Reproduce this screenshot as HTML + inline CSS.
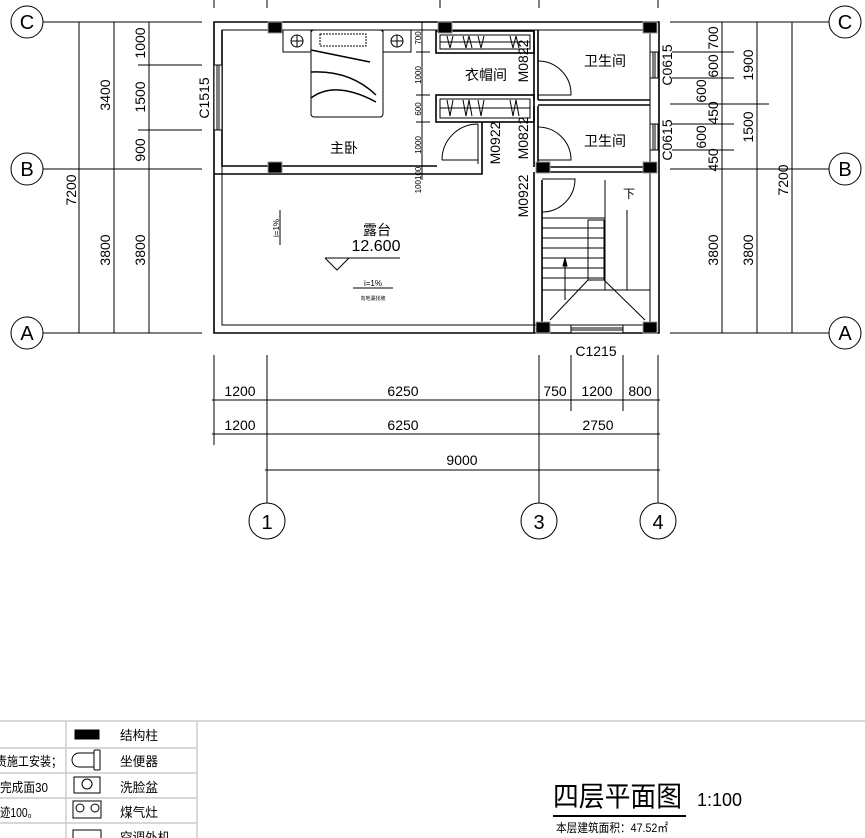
<!DOCTYPE html>
<html><head><meta charset="utf-8"><style>
html,body{margin:0;padding:0;background:#fff;width:865px;height:838px;overflow:hidden}
svg{display:block}
text{font-family:"Liberation Sans","Noto Sans CJK SC",sans-serif;fill:#000}
</style></head><body>
<svg width="865" height="838" viewBox="0 0 865 838" xmlns="http://www.w3.org/2000/svg">
<g stroke="#000" fill="none" stroke-width="1">
<line x1="214" y1="0" x2="214" y2="8"/><line x1="267" y1="0" x2="267" y2="8"/><line x1="440" y1="0" x2="440" y2="8"/><line x1="539" y1="0" x2="539" y2="8"/><line x1="658" y1="0" x2="658" y2="8"/>
<circle cx="27" cy="22" r="16"/><circle cx="27" cy="169" r="16"/><circle cx="27" cy="333" r="16"/>
<line x1="43" y1="22" x2="202" y2="22"/><line x1="43" y1="169" x2="202" y2="169"/><line x1="43" y1="333" x2="202" y2="333"/>
<line x1="79" y1="22" x2="79" y2="333"/><line x1="114" y1="22" x2="114" y2="333"/><line x1="149" y1="22" x2="149" y2="333"/>
<line x1="138" y1="65" x2="202" y2="65"/><line x1="138" y1="130" x2="202" y2="130"/>
<circle cx="845" cy="22" r="16"/><circle cx="845" cy="169" r="16"/><circle cx="845" cy="333" r="16"/>
<line x1="670" y1="22" x2="829" y2="22"/><line x1="670" y1="169" x2="829" y2="169"/><line x1="670" y1="333" x2="829" y2="333"/>
<line x1="722" y1="22" x2="722" y2="333"/><line x1="757" y1="22" x2="757" y2="333"/><line x1="792" y1="22" x2="792" y2="333"/>
<line x1="672" y1="52" x2="734" y2="52"/><line x1="672" y1="78" x2="734" y2="78"/><line x1="670" y1="104" x2="769" y2="104"/><line x1="672" y1="124" x2="734" y2="124"/><line x1="672" y1="150" x2="734" y2="150"/>
<line x1="214" y1="355" x2="214" y2="445"/><line x1="267" y1="355" x2="267" y2="503"/><line x1="539" y1="355" x2="539" y2="503"/><line x1="658" y1="355" x2="658" y2="503"/>
<line x1="571" y1="355" x2="571" y2="411"/><line x1="623" y1="355" x2="623" y2="411"/>
<line x1="212" y1="400" x2="660" y2="400"/><line x1="212" y1="434" x2="660" y2="434"/><line x1="265" y1="470" x2="660" y2="470"/>
<circle cx="267" cy="521" r="18"/><circle cx="539" cy="521" r="18"/><circle cx="658" cy="521" r="18"/>
<g stroke-width="1.6">
<path d="M214 22H659V333H214Z"/>
<path d="M222 30H650V325H222Z" stroke-width="1"/>
<path d="M222 30V166H437M214 174H482V122"/>
<path d="M534 30V100M538 30V100M538 100H650M538 105H650M534 106V167M538 106V167M538 167H650M538 172H650M534 172V333M542 180V325"/>
<rect x="436" y="31" width="98" height="22"/><rect x="440" y="35" width="90" height="14" stroke-width="1"/>
<rect x="436" y="95" width="98" height="27"/><rect x="440" y="99" width="90" height="19" stroke-width="1"/>
</g>
<line x1="440" y1="42" x2="530" y2="42"/><line x1="440" y1="108" x2="530" y2="108"/>
<path d="M447 36l3 12l3-12M463 36l3 12l3-12l3 12M478 36l3 12l3-12M510 36l3 12l3-12l3 12M447 100l3 16l3-16M463 100l3 16l3-16l3 16M478 100l3 16l3-16M510 100l3 16l3-16l3 16"/>
<rect x="214" y="65" width="8" height="65" fill="#fff"/><line x1="217" y1="65" x2="217" y2="130"/><line x1="219" y1="65" x2="219" y2="130"/>
<rect x="650" y="52" width="8" height="26" fill="#fff"/><line x1="653" y1="52" x2="653" y2="78"/><line x1="655" y1="52" x2="655" y2="78"/>
<rect x="650" y="124" width="8" height="26" fill="#fff"/><line x1="653" y1="124" x2="653" y2="150"/><line x1="655" y1="124" x2="655" y2="150"/>
<rect x="571" y="325" width="52" height="8" fill="#fff"/><line x1="571" y1="328" x2="623" y2="328"/><line x1="571" y1="330" x2="623" y2="330"/>
<path d="M478 124V164M478 124A36 36 0 0 0 442 160M442 160H478"/>
<path d="M538 61A33 33 0 0 1 571 95H538"/>
<path d="M538 127A33 33 0 0 1 571 160H538"/>
<path d="M542 179H575A33 33 0 0 1 542 212"/>
<path d="M542 218H605M542 228H605M542 238H605M542 248H605M542 258H605M542 268H605M542 278H605M542 290H650"/>
<rect x="588" y="220" width="16" height="60"/>
<line x1="605" y1="180" x2="605" y2="290"/>
<path d="M565 300V258M627 210V290M588 280L550 320M604 280L645 320"/>
<path d="M565 258l-2 8h4z" fill="#000"/>
<rect x="283" y="30" width="28" height="22"/><circle cx="297" cy="41" r="6"/><line x1="291" y1="41" x2="303" y2="41"/><line x1="297" y1="35" x2="297" y2="47"/>
<rect x="383" y="30" width="28" height="22"/><circle cx="397" cy="41" r="6"/><line x1="391" y1="41" x2="403" y2="41"/><line x1="397" y1="35" x2="397" y2="47"/>
<rect x="311" y="30" width="72" height="87" rx="3"/>
<rect x="320" y="34" width="46" height="12" stroke-dasharray="2 1"/>
<path d="M311 50L370 62M311 72Q350 70 376 95M311 98Q335 80 376 102" stroke-width="1.5"/>
<line x1="422" y1="22" x2="422" y2="180"/>
<path d="M416 52H430M416 95H430M416 122H430M416 166H430M416 174H430"/>
<line x1="280" y1="210" x2="280" y2="245"/>
<line x1="353" y1="288" x2="393" y2="288"/>
<path d="M325 258H400M325 258L337 270L349 258"/>
</g>
<g fill="#000" stroke="#999" stroke-width="1">
<rect x="268" y="22" width="14" height="11"/><rect x="438" y="22" width="14" height="11"/><rect x="643" y="22" width="14" height="11"/>
<rect x="268" y="162" width="14" height="11"/><rect x="536" y="162" width="14" height="11"/><rect x="643" y="162" width="14" height="11"/>
<rect x="536" y="322" width="14" height="11"/><rect x="643" y="322" width="14" height="11"/>
</g>
<g font-size="20"><text x="27" y="29" text-anchor="middle">C</text><text x="27" y="176" text-anchor="middle">B</text><text x="27" y="340" text-anchor="middle">A</text>
<text x="845" y="29" text-anchor="middle">C</text><text x="845" y="176" text-anchor="middle">B</text><text x="845" y="340" text-anchor="middle">A</text>
<text x="267" y="529" text-anchor="middle">1</text><text x="539" y="529" text-anchor="middle">3</text><text x="658" y="529" text-anchor="middle">4</text></g>
<g font-size="14" text-anchor="middle">
<text transform="translate(76 190) rotate(-90)">7200</text>
<text transform="translate(110 95) rotate(-90)">3400</text><text transform="translate(110 250) rotate(-90)">3800</text>
<text transform="translate(145 43) rotate(-90)">1000</text><text transform="translate(145 97) rotate(-90)">1500</text><text transform="translate(145 150) rotate(-90)">900</text><text transform="translate(145 250) rotate(-90)">3800</text>
<text transform="translate(209 98) rotate(-90)">C1515</text>
<text transform="translate(718 38) rotate(-90)">700</text><text transform="translate(718 66) rotate(-90)">600</text><text transform="translate(706 91) rotate(-90)">600</text><text transform="translate(718 113) rotate(-90)">450</text><text transform="translate(706 137) rotate(-90)">600</text><text transform="translate(718 160) rotate(-90)">450</text>
<text transform="translate(753 65) rotate(-90)">1900</text><text transform="translate(753 127) rotate(-90)">1500</text><text transform="translate(753 250) rotate(-90)">3800</text><text transform="translate(718 250) rotate(-90)">3800</text>
<text transform="translate(788 180) rotate(-90)">7200</text>
<text transform="translate(672 65) rotate(-90)">C0615</text><text transform="translate(672 140) rotate(-90)">C0615</text>
<text transform="translate(528 61) rotate(-90)">M0822</text><text transform="translate(528 138) rotate(-90)">M0822</text><text transform="translate(500 143) rotate(-90)">M0922</text><text transform="translate(528 196) rotate(-90)">M0922</text>
<text x="240" y="396">1200</text><text x="403" y="396">6250</text><text x="555" y="396">750</text><text x="597" y="396">1200</text><text x="640" y="396">800</text>
<text x="240" y="430">1200</text><text x="403" y="430">6250</text><text x="598" y="430">2750</text><text x="462" y="465">9000</text>
<text x="596" y="356">C1215</text>
<text x="376" y="251" font-size="16">12.600</text>
</g>
<g font-size="8" text-anchor="middle"><text transform="translate(421 38) rotate(-90)">700</text><text transform="translate(421 75) rotate(-90)">1000</text><text transform="translate(421 109) rotate(-90)">600</text><text transform="translate(421 145) rotate(-90)">1000</text><text transform="translate(421 180) rotate(-90)">100100</text>
<text x="373" y="286">i=1%</text><text x="373" y="300" font-size="5">向地漏找坡</text>
<text transform="translate(279 228) rotate(-90)">i=1%</text></g>
<g font-size="14"><text x="465" y="80">衣帽间</text><text x="584" y="66">卫生间</text><text x="584" y="146">卫生间</text><text x="330" y="153">主卧</text><text x="363" y="235">露台</text><text x="623" y="198" font-size="12">下</text></g>
<!-- legend -->
<g stroke="#ccc" stroke-width="1.5" fill="none">
<line x1="0" y1="721" x2="865" y2="721"/>
<line x1="0" y1="748" x2="197" y2="748"/><line x1="0" y1="773" x2="197" y2="773"/><line x1="0" y1="798" x2="197" y2="798"/><line x1="0" y1="823" x2="197" y2="823"/>
<line x1="66" y1="721" x2="66" y2="838"/><line x1="197" y1="721" x2="197" y2="838"/>
</g>
<g stroke="#000" fill="none"><rect x="75" y="730" width="24" height="9" fill="#000"/><path d="M94 753H79A7 7 0 0 0 79 767H94Z"/><rect x="94" y="750" width="6" height="20" rx="1"/><rect x="74" y="777" width="26" height="16"/><circle cx="87" cy="784" r="5"/><rect x="73" y="801" width="28" height="17"/><circle cx="80" cy="808" r="4"/><circle cx="95" cy="808" r="4"/><rect x="73" y="830" width="28" height="9"/></g>
<g font-size="13"><text x="120" y="740" textLength="38" lengthAdjust="spacingAndGlyphs">结构柱</text><text x="120" y="766" textLength="38" lengthAdjust="spacingAndGlyphs">坐便器</text><text x="120" y="792" textLength="38" lengthAdjust="spacingAndGlyphs">洗脸盆</text><text x="120" y="817" textLength="38" lengthAdjust="spacingAndGlyphs">煤气灶</text><text x="120" y="842" textLength="50" lengthAdjust="spacingAndGlyphs">空调外机</text>
<text x="-4" y="766" textLength="66" lengthAdjust="spacingAndGlyphs">责施工安装；</text><text x="0" y="792" textLength="48" lengthAdjust="spacingAndGlyphs">完成面30</text><text x="0" y="817" textLength="38" lengthAdjust="spacingAndGlyphs">迹100。</text></g>
<text x="553" y="806" font-size="28" textLength="129" lengthAdjust="spacingAndGlyphs">四层平面图</text><line x1="553" y1="816" x2="686" y2="816" stroke="#000" stroke-width="2"/>
<text x="697" y="806" font-size="18" textLength="45" lengthAdjust="spacingAndGlyphs">1:100</text>
<text x="556" y="832" font-size="12" textLength="112" lengthAdjust="spacingAndGlyphs">本层建筑面积：47.52㎡</text>
</svg>
</body></html>
